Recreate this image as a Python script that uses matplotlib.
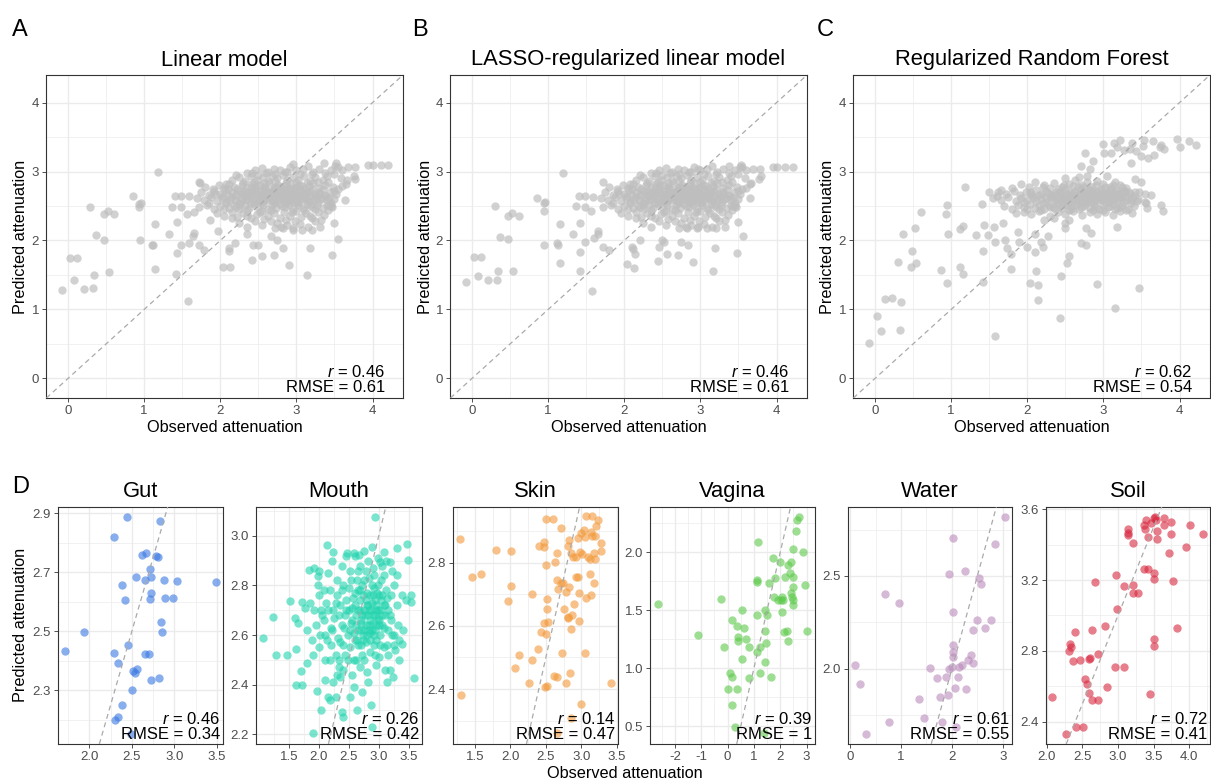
import numpy as np
import matplotlib
matplotlib.use("Agg")
import matplotlib.pyplot as plt

plt.rcParams['font.family'] = ['Liberation Sans', 'DejaVu Sans']
plt.rcParams['mathtext.fontset'] = 'custom'
plt.rcParams['mathtext.it'] = 'Liberation Sans:italic'
plt.rcParams['mathtext.rm'] = 'Liberation Sans'

# ---------------- data (observed, predicted) ----------------
# dense cloud shared by the linear and LASSO panels (they look alike)
core_ab = [
    (2.45,3.02),(2.55,3.05),(2.62,3.00),(2.70,3.04),(2.78,3.02),(2.85,3.00),(2.92,3.06),(3.00,3.02),(3.08,3.04),
    (3.15,3.08),(3.22,3.00),(3.30,3.04),(3.38,2.98),(3.45,3.02),(3.55,3.06),(3.60,3.02),(2.35,2.98),(2.50,2.95),
    (1.72,2.85),(2.08,2.82),(2.15,2.88),(2.25,2.92),(2.32,2.86),(2.40,2.94),(2.48,2.88),(2.56,2.92),(2.62,2.86),
    (2.68,2.94),(2.75,2.90),(2.82,2.95),(2.88,2.87),(2.95,2.92),(3.02,2.88),(3.10,2.93),(3.18,2.86),(3.25,2.92),
    (3.35,2.88),(3.42,2.85),(3.58,2.90),(3.65,2.82),
    (1.80,2.78),(1.90,2.74),(1.98,2.80),(2.05,2.76),(2.12,2.82),(2.18,2.78),(2.22,2.74),(2.28,2.80),(2.35,2.76),
    (2.42,2.82),(2.46,2.75),(2.52,2.80),(2.58,2.77),(2.64,2.83),(2.70,2.76),(2.76,2.81),(2.80,2.74),(2.86,2.79),
    (2.92,2.83),(2.98,2.76),(3.04,2.80),(3.10,2.74),(3.16,2.79),(3.22,2.83),(3.30,2.76),(3.38,2.80),(3.48,2.78),
    (3.55,2.75),
    (1.75,2.70),(1.85,2.66),(1.92,2.72),(2.00,2.68),(2.06,2.73),(2.10,2.66),(2.16,2.70),(2.20,2.65),(2.26,2.72),
    (2.30,2.67),(2.36,2.71),(2.40,2.66),(2.45,2.73),(2.50,2.68),(2.55,2.72),(2.60,2.66),(2.65,2.70),(2.70,2.73),
    (2.74,2.67),(2.78,2.71),(2.84,2.66),(2.88,2.72),(2.93,2.68),(2.97,2.73),(3.02,2.66),(3.07,2.70),(3.12,2.67),
    (3.18,2.72),(3.24,2.68),(3.30,2.71),(3.36,2.66),(3.44,2.70),(3.52,2.68),
    (1.70,2.62),(1.78,2.58),(1.88,2.63),(1.95,2.57),(2.02,2.61),(2.08,2.56),(2.14,2.63),(2.19,2.59),(2.24,2.55),
    (2.29,2.62),(2.34,2.58),(2.39,2.64),(2.44,2.56),(2.49,2.61),(2.54,2.57),(2.59,2.63),(2.63,2.58),(2.68,2.62),
    (2.72,2.56),(2.77,2.60),(2.82,2.64),(2.86,2.57),(2.91,2.61),(2.96,2.56),(3.00,2.62),(3.05,2.58),(3.11,2.63),
    (3.16,2.57),(3.22,2.61),(3.28,2.56),(3.34,2.62),(3.40,2.58),(3.50,2.60),
    (1.72,2.48),(1.82,2.52),(1.92,2.46),(2.00,2.50),(2.07,2.54),(2.12,2.47),(2.18,2.52),(2.25,2.46),(2.32,2.51),
    (2.38,2.47),(2.44,2.53),(2.50,2.48),(2.56,2.52),(2.62,2.46),(2.68,2.51),(2.73,2.47),(2.79,2.53),(2.85,2.48),
    (2.90,2.52),(2.96,2.46),(3.02,2.51),(3.08,2.47),(3.14,2.53),(3.20,2.48),(3.27,2.52),(3.35,2.47),(3.45,2.50),
    (1.95,2.40),(2.05,2.36),(2.15,2.42),(2.22,2.34),(2.30,2.40),(2.40,2.32),(2.48,2.38),(2.55,2.43),(2.62,2.35),
    (2.70,2.40),(2.78,2.33),(2.84,2.41),(2.92,2.36),(3.00,2.43),(3.06,2.34),(3.12,2.40),(3.20,2.33),(3.28,2.42),
    (3.36,2.37),(3.42,2.44),
    (2.25,2.26),(2.45,2.28),(2.55,2.22),(2.75,2.25),(2.82,2.18),(2.88,2.22),(3.05,2.24),(3.15,2.20),(3.25,2.28),
    (2.35,2.20),
    (2.52,2.66),(2.58,2.74),(2.66,2.62),(2.72,2.78),(2.80,2.68),(2.86,2.62),(2.92,2.76),(2.98,2.64),(2.61,2.70),
    (2.69,2.57),(2.75,2.70),(2.83,2.74),(2.90,2.58),(2.95,2.70),(3.05,2.75),(3.10,2.62),(2.47,2.62),(2.40,2.77),
    (2.33,2.64),(2.57,2.58),
]

core_ab_dense = [
    (1.85,2.55),(1.93,2.68),(2.03,2.64),(2.10,2.74),(2.13,2.58),(2.21,2.68),(2.27,2.57),(2.31,2.72),(2.37,2.60),
    (2.42,2.70),(2.47,2.79),(2.51,2.57),(2.54,2.64),(2.57,2.69),(2.60,2.75),(2.63,2.61),(2.66,2.67),(2.69,2.72),
    (2.71,2.59),(2.74,2.64),(2.77,2.69),(2.79,2.77),(2.81,2.62),(2.84,2.59),(2.87,2.69),(2.89,2.75),(2.92,2.64),
    (2.94,2.58),(2.97,2.68),(2.99,2.78),(3.01,2.56),(3.04,2.64),(3.07,2.79),(3.09,2.67),(3.13,2.58),(3.14,2.71),
    (3.17,2.64),(3.21,2.75),(3.23,2.58),(3.26,2.64),(3.29,2.68),(3.32,2.60),(3.35,2.74),(3.39,2.65),(3.43,2.62),
    (3.46,2.55),(3.50,2.72),
    (2.05,2.45),(2.20,2.48),(2.35,2.44),(2.52,2.42),(2.66,2.44),(2.81,2.50),(2.94,2.42),(3.10,2.44),(3.24,2.45),
    (3.40,2.52),(2.15,2.33),(2.35,2.36),(2.58,2.31),(2.66,2.28),(2.86,2.30),(2.98,2.28),(3.18,2.36),(3.32,2.30),
    (2.72,2.18),(2.95,2.18),
    (2.20,2.95),(2.42,2.98),(2.60,2.98),(2.72,2.97),(2.88,3.00),(3.05,2.97),(3.20,2.96),(3.40,2.94),(3.50,2.96),
    (2.58,2.84),(2.72,2.86),(2.86,2.84),(3.00,2.85),(3.14,2.83),(3.28,2.85),(2.44,2.85),(2.30,2.84),
    (2.55,2.54),(2.70,2.54),(2.88,2.55),(3.02,2.54),(3.18,2.52),(2.40,2.55),(2.26,2.52),
]

linear_outer = [
    (-0.08,1.28),(0.02,1.74),(0.12,1.74),(0.08,1.42),(0.21,1.30),(0.33,1.31),(0.34,1.50),(0.29,2.49),(0.37,2.08),
    (0.47,2.00),(0.47,2.39),(0.52,2.43),(0.60,2.38),(0.54,1.54),(0.85,2.65),(0.93,2.53),(0.93,2.48),(0.96,2.55),
    (0.95,2.00),(1.10,1.93),(1.12,1.93),(1.14,1.59),(1.14,2.24),(1.18,2.99),(1.32,2.09),(1.37,2.49),(1.40,2.64),
    (1.43,2.27),(1.43,1.82),(1.42,1.51),(1.49,2.64),(1.49,2.49),(1.49,1.94),(1.57,1.12),(1.59,2.64),(1.56,2.39),
    (1.64,2.06),(1.65,2.11),(1.59,1.97),(1.72,1.94),(1.79,1.86),(1.65,2.41),(1.73,2.83),(1.87,2.29),(1.97,2.14),
    (2.04,1.61),(2.13,1.61),(2.11,1.89),(2.11,1.84),(2.19,1.96),(2.35,2.10),(2.43,1.94),(2.49,1.94),(2.42,1.71),
    (2.55,1.77),(2.70,1.79),(2.66,2.06),(2.74,2.01),(2.83,1.89),(2.90,1.65),(3.14,1.50),(3.18,1.89),(3.47,1.79),
    (3.55,2.02),(3.49,2.25),(3.64,2.59),(3.75,2.94),(3.77,2.89),(3.94,3.09),(4.01,3.09),(4.11,3.09),(4.20,3.09),
    (3.77,3.07),(3.68,3.07),(3.51,3.08),(3.52,3.12),(3.36,3.13),(2.96,3.11),(3.60,2.79),(3.66,2.88),(3.47,2.49),
    (3.43,2.51),(3.31,2.20),(3.20,2.15),(3.07,2.15),(2.96,2.15),(2.80,2.20),
]

lasso_outer = [
    (-0.08,1.40),(0.02,1.76),(0.12,1.76),(0.08,1.48),(0.21,1.43),(0.33,1.43),(0.34,1.56),(0.54,1.56),(0.30,2.50),
    (0.37,2.05),(0.47,2.02),(0.47,2.36),(0.52,2.40),(0.61,2.36),(0.85,2.61),(0.94,2.43),(0.96,2.56),(0.94,2.54),
    (0.95,1.94),(1.11,1.97),(1.13,1.94),(1.15,1.68),(1.15,2.24),(1.19,2.98),(1.32,2.10),(1.37,2.50),(1.40,2.64),
    (1.42,2.26),(1.42,1.83),(1.42,1.56),(1.49,2.64),(1.49,2.49),(1.49,1.98),(1.57,1.26),(1.59,2.63),(1.56,2.43),
    (1.65,2.14),(1.66,2.10),(1.60,2.03),(1.72,1.91),(1.80,1.86),(2.04,1.66),(2.13,1.60),(2.11,1.87),(2.14,1.81),
    (2.10,1.91),(2.20,2.01),(2.44,1.70),(2.45,1.90),(2.56,1.80),(2.50,2.01),(2.52,1.98),(2.70,1.79),(2.75,1.98),
    (2.84,1.94),(2.90,1.69),(3.16,1.56),(3.19,1.89),(3.48,1.82),(3.56,2.07),(3.49,2.27),(3.65,2.61),(3.77,2.89),
    (3.79,2.94),(3.95,3.06),(4.01,3.06),(4.11,3.06),(4.21,3.06),(3.78,3.04),(3.69,3.04),(3.52,3.06),(3.53,3.10),
    (3.38,3.08),(2.97,3.03),(3.60,2.76),(3.67,2.84),(3.47,2.49),(3.43,2.50),(3.32,2.20),(3.21,2.18),(3.08,2.18),
    (2.97,2.20),(2.81,2.20),
]

forest_core = [
    (1.92,2.82),(2.02,2.78),(2.10,2.85),(2.22,2.80),(2.35,2.84),(2.45,2.78),(2.55,2.82),(2.62,2.88),(2.70,2.80),
    (2.78,2.85),(2.85,2.78),(2.92,2.86),(3.00,2.82),(3.08,2.78),(3.15,2.85),(3.22,2.80),(3.30,2.76),(2.50,2.90),
    (2.68,2.92),(2.40,2.75),
    (1.62,2.70),(1.72,2.68),(1.82,2.72),(1.90,2.66),(1.98,2.71),(2.05,2.67),(2.12,2.73),(2.18,2.68),(2.25,2.72),
    (2.32,2.66),(2.38,2.71),(2.44,2.67),(2.50,2.74),(2.56,2.68),(2.62,2.72),(2.67,2.66),(2.72,2.71),(2.77,2.67),
    (2.83,2.73),(2.88,2.68),(2.94,2.72),(2.99,2.66),(3.05,2.71),(3.10,2.67),(3.16,2.73),(3.22,2.68),(3.28,2.72),
    (3.35,2.67),(3.42,2.70),
    (1.55,2.62),(1.65,2.58),(1.75,2.63),(1.85,2.57),(1.92,2.62),(2.00,2.58),(2.06,2.64),(2.12,2.57),(2.18,2.61),
    (2.24,2.56),(2.30,2.63),(2.36,2.58),(2.42,2.62),(2.48,2.56),(2.53,2.61),(2.58,2.57),(2.63,2.64),(2.68,2.58),
    (2.73,2.62),(2.78,2.56),(2.83,2.61),(2.88,2.57),(2.93,2.63),(2.98,2.58),(3.03,2.62),(3.08,2.56),(3.13,2.61),
    (3.18,2.57),(3.24,2.63),(3.30,2.58),(3.37,2.62),(3.44,2.57),
    (1.70,2.50),(1.80,2.46),(1.88,2.52),(1.96,2.48),(2.04,2.53),(2.10,2.47),(2.16,2.51),(2.22,2.46),(2.28,2.52),
    (2.34,2.48),(2.40,2.53),(2.46,2.47),(2.52,2.51),(2.58,2.46),(2.64,2.52),(2.70,2.48),(2.76,2.53),(2.82,2.47),
    (2.88,2.51),(2.94,2.46),(3.00,2.52),(3.06,2.48),(3.12,2.53),(3.18,2.47),(3.25,2.51),(3.32,2.46),(3.40,2.50),
    (1.85,2.40),(1.95,2.42),(2.05,2.38),(2.15,2.43),(2.30,2.36),(2.40,2.41),(2.50,2.38),(2.60,2.43),(2.72,2.37),
    (2.82,2.42),(2.92,2.38),(3.02,2.41),(3.12,2.37),(3.22,2.43),(3.38,2.40),(2.22,2.30),(2.35,2.32),(2.55,2.30),
    (2.45,2.64),(2.55,2.70),(2.65,2.55),(2.75,2.66),(2.85,2.70),(2.95,2.60),(3.05,2.66),(3.15,2.70),(2.60,2.62),
    (2.70,2.74),(2.80,2.58),(2.90,2.64),(3.00,2.69),(3.10,2.59),(2.50,2.58),(2.35,2.66),(2.25,2.62),(3.20,2.64),
]

forest_dense = [
    (1.95,2.56),(2.03,2.70),(2.09,2.62),(2.15,2.66),(2.21,2.55),(2.27,2.69),(2.33,2.61),(2.39,2.56),(2.43,2.70),
    (2.47,2.62),(2.51,2.67),(2.55,2.55),(2.57,2.64),(2.61,2.69),(2.64,2.59),(2.66,2.78),(2.69,2.64),(2.72,2.57),
    (2.74,2.69),(2.77,2.62),(2.80,2.74),(2.82,2.66),(2.85,2.56),(2.87,2.65),(2.90,2.70),(2.92,2.59),(2.95,2.66),
    (2.97,2.75),(3.00,2.62),(3.02,2.56),(3.05,2.69),(3.07,2.62),(3.10,2.74),(3.12,2.65),(3.15,2.58),(3.18,2.67),
    (3.21,2.62),(3.24,2.70),(3.27,2.56),(3.30,2.65),(3.33,2.70),(3.36,2.55),(3.40,2.64),(3.45,2.60),
    (2.00,2.45),(2.18,2.44),(2.36,2.45),(2.55,2.44),(2.68,2.45),(2.86,2.44),(3.00,2.44),(3.15,2.45),(3.30,2.44),
    (2.20,2.78),(2.30,2.76),(2.48,2.80),(2.60,2.79),(2.75,2.78),(2.90,2.81),(3.02,2.77),(3.12,2.80),(3.25,2.78),
    (2.58,2.50),(2.75,2.50),(2.90,2.49),(3.08,2.50),(3.22,2.49),(2.45,2.52),(2.30,2.49),
]

forest_outer = [
    (-0.08,0.51),(0.02,0.90),(0.08,0.69),(0.13,1.15),(0.22,1.16),(0.34,1.11),(0.33,0.70),(0.30,1.69),(0.37,2.09),
    (0.48,1.84),(0.47,1.61),(0.54,1.67),(0.52,2.18),(0.60,2.42),(0.86,1.57),(0.95,1.38),(0.96,2.10),(0.93,2.39),
    (0.94,2.51),(1.12,1.62),(1.15,1.51),(1.11,2.16),(1.16,2.21),(1.18,2.77),(1.32,2.08),(1.40,2.53),(1.42,1.85),
    (1.42,1.40),(1.43,2.22),(1.49,2.08),(1.50,2.71),(1.56,2.19),(1.57,1.98),(1.57,0.61),(1.60,2.64),(1.66,2.73),
    (1.68,2.26),(1.71,2.00),(1.73,1.89),(1.79,1.81),(1.79,1.58),(1.80,2.76),(1.88,2.12),(1.89,1.98),(2.00,1.90),
    (2.03,1.39),(2.10,2.09),(2.10,1.83),(2.11,1.56),(2.14,1.35),(2.14,1.14),(2.18,1.98),(2.20,1.91),(2.27,2.06),
    (2.44,1.49),(2.43,0.87),(2.52,1.67),(2.55,1.77),(2.49,2.25),(2.49,2.18),(2.70,1.97),(2.77,1.94),(2.77,2.18),
    (2.84,2.11),(2.91,1.37),(3.15,1.02),(3.18,2.19),(3.47,1.31),(3.76,2.51),(3.78,2.43),(3.57,2.47),(3.54,2.56),
    (2.76,3.27),(2.86,3.15),(2.82,3.04),(3.00,3.40),(3.01,3.27),(3.10,3.27),(3.14,3.41),(3.22,3.46),(3.27,3.31),
    (3.38,3.42),(3.36,3.13),(3.43,3.30),(3.53,3.46),(3.52,3.37),(3.49,3.22),(3.58,3.19),(3.65,3.44),(3.67,3.24),
    (3.74,3.35),(3.79,3.32),(3.76,3.39),(3.96,3.47),(4.01,3.35),(4.12,3.44),(4.21,3.38),(3.18,3.36),(3.35,3.33),
    (3.05,2.93),(2.70,3.08),(2.79,2.93),(3.41,2.89),(3.49,2.85),(3.47,2.71),(3.54,2.68),(3.63,2.66),(3.56,2.54),
    (3.36,2.59),(3.27,2.71),
]

gut = [
    (2.443,2.888),(2.830,2.874),(2.286,2.821),(2.623,2.759),(2.666,2.764),(2.783,2.755),(2.807,2.752),(2.709,2.711),
    (2.552,2.683),(2.654,2.674),(2.724,2.685),(2.873,2.672),(3.034,2.669),(3.485,2.666),(2.384,2.658),(2.724,2.629),
    (2.717,2.609),(2.415,2.607),(2.885,2.613),(2.979,2.611),(2.838,2.532),(2.850,2.496),(1.937,2.497),(1.718,2.432),
    (2.450,2.454),(2.290,2.425),(2.650,2.424),(2.697,2.423),(2.333,2.394),(2.509,2.366),(2.556,2.373),(2.533,2.359),
    (2.728,2.336),(2.819,2.343),(2.497,2.300),(2.384,2.250),(2.333,2.211),(2.306,2.200),(2.494,2.152),
]

mouth = [
    (1.067,2.587),(1.233,2.671),(1.283,2.521),(1.467,2.521),(1.52,2.738),(1.60,2.67),(1.65,2.647),(1.62,2.545),
    (1.70,2.454),(1.62,2.40),(1.72,2.40),(1.72,2.734),(1.77,2.71),(1.83,2.862),(1.92,2.871),(1.81,2.488),
    (1.97,2.373),(1.91,2.204),(2.03,2.298),(1.98,2.838),(1.98,2.80),(2.14,2.963),(2.24,2.936),(2.47,2.93),
    (2.59,2.93),(2.67,2.922),(2.94,3.077),(2.88,2.956),(3.02,2.896),(3.08,2.936),(3.19,2.896),(3.30,2.95),
    (3.47,2.966),(3.49,2.902),(3.53,2.762),(3.53,2.734),(3.58,2.426),(3.33,2.58),(3.38,2.565),(3.27,2.54),
    (3.19,2.46),(3.13,2.41),(3.23,2.43),(2.87,2.32),(2.72,2.37),(2.82,2.41),(2.58,2.39),(2.52,2.35),(2.63,2.30),
    (2.38,2.288),(2.41,2.268),(2.29,2.35),(2.16,2.349),(2.19,2.34),(2.88,2.23),(2.24,2.41),(2.36,2.43),(2.33,2.47),
    (2.19,2.50),(2.10,2.42),
    (2.00,2.86),(2.08,2.78),(2.15,2.85),(2.22,2.90),(2.30,2.82),(2.38,2.88),(2.45,2.92),(2.52,2.86),(2.60,2.92),
    (2.68,2.88),(2.75,2.94),(2.82,2.90),(2.90,2.87),(2.98,2.91),(3.05,2.88),(3.12,2.90),(3.22,2.86),(3.30,2.84),
    (1.85,2.73),(1.92,2.70),(2.00,2.76),(2.06,2.68),(2.12,2.73),(2.18,2.78),(2.24,2.70),(2.30,2.76),(2.36,2.72),
    (2.40,2.80),(2.45,2.74),(2.50,2.79),(2.55,2.71),(2.60,2.77),(2.64,2.82),(2.68,2.74),(2.72,2.80),(2.76,2.70),
    (2.80,2.77),(2.84,2.83),(2.88,2.73),(2.92,2.79),(2.96,2.70),(3.00,2.76),(3.04,2.82),(3.08,2.72),(3.12,2.78),
    (3.16,2.70),(3.20,2.76),(3.25,2.80),(3.30,2.72),(3.38,2.76),(3.45,2.74),
    (1.80,2.62),(1.88,2.58),(1.95,2.64),(2.02,2.60),(2.08,2.66),(2.14,2.58),(2.20,2.63),(2.26,2.67),(2.32,2.59),
    (2.38,2.64),(2.44,2.68),(2.48,2.60),(2.53,2.65),(2.58,2.61),(2.62,2.68),(2.66,2.62),(2.70,2.66),(2.74,2.60),
    (2.78,2.64),(2.82,2.68),(2.86,2.61),(2.90,2.65),(2.94,2.62),(2.98,2.67),(3.02,2.60),(3.06,2.64),(3.10,2.68),
    (3.15,2.62),(3.20,2.66),(3.26,2.60),(3.32,2.64),(3.40,2.62),
    (1.90,2.52),(2.00,2.55),(2.10,2.50),(2.20,2.56),(2.28,2.52),(2.36,2.57),(2.44,2.52),(2.52,2.55),(2.58,2.50),
    (2.65,2.56),(2.72,2.52),(2.78,2.57),(2.85,2.53),(2.92,2.56),(3.00,2.51),(3.08,2.55),(3.16,2.52),(3.25,2.56),
    (3.34,2.50),(2.40,2.46),(2.55,2.44),(2.68,2.47),(2.80,2.45),(2.95,2.48),(3.10,2.46),(2.30,2.44),
    (2.60,2.72),(2.66,2.78),(2.72,2.68),(2.78,2.74),(2.84,2.70),(2.90,2.76),(2.96,2.72),(3.02,2.70),(2.70,2.62),
    (2.86,2.66),(2.92,2.60),(2.76,2.82),(2.98,2.80),(2.56,2.66),(2.50,2.70),(2.64,2.58),(2.80,2.60),(3.06,2.76),
    (2.88,2.80),(2.74,2.76),(2.82,2.72),(2.94,2.68),(3.00,2.64),(2.68,2.70),
    (2.52,2.62),(2.57,2.75),(2.62,2.64),(2.65,2.70),(2.69,2.78),(2.71,2.65),(2.75,2.62),(2.77,2.68),(2.80,2.72),
    (2.83,2.64),(2.85,2.76),(2.87,2.70),(2.89,2.62),(2.91,2.68),(2.93,2.74),(2.95,2.64),(2.97,2.77),(2.99,2.70),
    (3.01,2.66),(3.03,2.74),(3.05,2.68),(3.08,2.63),(3.10,2.72),(3.14,2.75),(3.18,2.68),(2.46,2.70),(2.42,2.63),
    (2.38,2.78),(2.33,2.68),(2.28,2.73),(2.22,2.62),(2.16,2.70),(2.10,2.60),(2.04,2.70),(2.62,2.50),(2.70,2.56),
    (2.76,2.50),(2.86,2.58),(2.94,2.52),(3.02,2.56),(2.54,2.82),(2.66,2.86),(2.78,2.86),(2.92,2.84),(3.08,2.84),
    (2.48,2.50),(2.40,2.56),(2.34,2.50),(3.14,2.56),(3.22,2.60),(2.60,2.58),(2.84,2.62),(2.74,2.58),(2.96,2.58),
]

skin = [
    (1.288,2.874),(1.296,2.381),(1.453,2.756),(1.585,2.764),(1.796,2.840),(2.004,2.836),(2.013,2.726),(1.971,2.680),
    (2.126,2.507),(2.069,2.468),(2.305,2.702),(2.309,2.491),(2.266,2.420),(2.385,2.528),(2.428,2.580),(2.409,2.853),
    (2.475,2.866),(2.480,2.849),(2.499,2.938),(2.607,2.937),(2.504,2.793),(2.513,2.684),(2.518,2.653),(2.536,2.612),
    (2.480,2.610),(2.504,2.574),(2.485,2.405),(2.518,2.409),(2.612,2.442),(2.654,2.439),(2.631,2.803),(2.654,2.830),
    (2.711,2.909),(2.659,2.745),(2.715,2.737),(2.744,2.735),(2.678,2.718),(2.728,2.513),(2.758,2.653),(2.791,2.708),
    (2.833,2.724),(2.809,2.853),(2.833,2.872),(2.861,2.832),(2.885,2.817),(2.819,2.625),(2.814,2.629),(2.875,2.634),
    (2.894,2.669),(2.861,2.589),(2.838,2.450),(2.781,2.418),(2.960,2.879),(2.969,2.703),(2.969,2.616),(2.927,2.756),
    (2.955,2.756),(2.932,2.819),(2.993,2.893),(3.035,2.903),(3.054,2.882),(3.007,2.827),(2.988,2.834),(3.096,2.819),
    (3.072,2.687),(3.049,2.515),(3.002,2.352),(3.072,2.946),(3.152,2.946),(3.237,2.935),(3.214,2.916),(3.138,2.897),
    (3.152,2.885),(3.190,2.885),(3.119,2.764),(3.134,2.697),(3.176,2.735),(3.119,2.813),(3.181,2.830),(3.195,2.813),
    (3.280,2.862),(3.271,2.838),(3.416,2.418),(2.861,2.309),(2.664,2.262),
]

vagina = [
    (-2.658,1.551),(-1.114,1.283),(-0.266,1.594),(1.139,2.089),(1.101,1.761),(1.101,1.747),(0.165,1.415),(0.532,1.502),
    (0.367,1.366),(0.633,1.343),(0.405,1.272),(0.380,1.237),(0.684,1.251),(-0.127,1.185),(0.810,1.185),(1.241,1.185),
    (1.114,1.136),(0.557,1.079),(0.076,0.955),(0.177,0.926),(0.810,0.912),(1.215,0.961),(1.633,0.926),(0.013,0.817),
    (0.367,0.822),(0.177,0.681),(0.266,0.494),(1.392,0.442),(1.101,1.459),(1.418,1.502),(1.481,1.459),(1.456,1.214),
    (1.418,1.056),(1.418,1.320),(1.582,1.732),(1.709,1.954),(1.797,1.781),(1.759,1.611),(1.924,1.588),(2.051,1.617),
    (2.013,1.588),(2.114,1.588),(2.051,1.487),(1.987,1.919),(2.177,1.790),(2.304,1.891),(2.392,1.919),(2.367,1.818),
    (2.468,1.784),(2.392,1.646),(2.430,1.611),(2.494,1.588),(2.468,1.545),(2.494,1.698),(2.139,1.315),(2.266,1.320),
    (2.291,1.237),(2.494,2.026),(2.595,2.179),(2.620,2.279),(2.722,2.308),(2.873,2.000),(2.937,1.718),(3.025,1.323),
]

water = [
    (0.098,2.020),(0.197,1.917),(0.308,1.649),(0.688,2.401),(0.969,2.356),(0.773,1.710),(1.362,1.836),(1.461,1.732),
    (1.572,2.005),(1.710,1.948),(1.769,1.849),(1.815,1.714),(1.886,1.957),(1.926,1.860),(1.939,2.509),(1.939,2.000),
    (2.017,2.703),(2.017,2.304),(2.024,2.129),(2.031,2.092),(2.031,2.065),(2.011,2.007),(2.057,1.898),(2.090,1.683),
    (2.136,2.011),(2.129,1.957),(2.201,2.018),(2.253,2.527),(2.273,1.890),(2.312,2.047),(2.371,2.074),(2.410,2.029),
    (2.423,2.207),(2.502,2.263),(2.535,2.487),(2.581,2.459),(2.659,2.219),(2.771,2.264),(2.849,2.671),(3.052,2.818),
]

soil = [
    (2.080,2.539),(2.272,2.333),(2.412,2.372),(2.511,2.372),(2.319,2.797),(2.337,2.824),(2.328,2.839),(2.365,2.743),
    (2.403,2.905),(2.468,2.748),(2.543,2.639),(2.562,2.613),(2.590,2.564),(2.600,2.752),(2.609,2.762),(2.637,2.920),
    (2.637,2.522),(2.679,3.189),(2.717,2.522),(2.717,2.782),(2.824,2.941),(2.843,2.598),(2.974,3.230),(2.984,3.034),
    (2.960,2.709),(3.087,3.168),(3.077,2.709),(3.208,3.172),(3.208,3.127),(3.279,3.127),(3.208,3.408),(3.138,3.487),
    (3.138,3.468),(3.134,3.455),(3.358,3.261),(3.415,3.265),(3.368,3.511),(3.377,3.487),(3.386,3.540),(3.419,3.445),
    (3.499,3.239),(3.499,3.204),(3.443,2.556),(3.499,2.869),(3.508,2.827),(3.466,3.525),(3.504,3.549),(3.513,3.559),
    (3.536,3.540),(3.550,3.480),(3.541,3.431),(3.639,3.553),(3.649,3.511),(3.747,3.460),(3.747,3.530),(3.719,3.351),
    (3.770,3.194),(3.827,2.929),(3.953,3.389),(4.014,3.511),(4.192,3.462),
]

top_titles = ["Linear model", "LASSO-regularized linear model", "Regularized Random Forest"]
top_stats = [("0.46", "0.61"), ("0.46", "0.61"), ("0.62", "0.54")]
bottom_titles = ["Gut", "Mouth", "Skin", "Vagina", "Water", "Soil"]
bottom_stats = [("0.46", "0.34"), ("0.26", "0.42"), ("0.14", "0.47"), ("0.39", "1"), ("0.61", "0.55"), ("0.72", "0.41")]
bottom_colors = ["#3A78E2", "#22D4AE", "#F2993A", "#5CC94A", "#B98BBB", "#D8283F"]

# ---------------- figure ----------------
W, H = 1211, 782
fig = plt.figure(figsize=(W / 100, H / 100), dpi=100)
fig.patch.set_facecolor("white")


def px_axes(left, top, right, bottom):
    return fig.add_axes([left / W, 1 - bottom / H, (right - left) / W, (bottom - top) / H])


def style(ax, xlim, ylim, xmaj, xlab, xmin, ymaj, ylab, ymin):
    ax.set_xticks(xmaj)
    ax.set_xticklabels(xlab)
    ax.set_yticks(ymaj)
    ax.set_yticklabels(ylab)
    ax.set_xticks(xmin, minor=True)
    ax.set_yticks(ymin, minor=True)
    ax.set_xlim(*xlim)
    ax.set_ylim(*ylim)
    ax.grid(which="major", color="#EBEBEB", lw=1.0)
    ax.grid(which="minor", color="#EBEBEB", lw=0.5)
    ax.set_axisbelow(True)
    ax.tick_params(which="major", length=3, width=0.6, color="#333333",
                   labelcolor="#4D4D4D", labelsize=9.5, pad=2)
    ax.tick_params(which="minor", length=0)
    for s in ax.spines.values():
        s.set_color("#333333")
        s.set_linewidth(0.8)


def stats_text(ax, r, rmse, xfrac):
    ax.text(xfrac, 0.01, r"$\it{r}$ = " + r + "\nRMSE = " + rmse, transform=ax.transAxes,
            ha="right", va="bottom", fontsize=12, color="black", linespacing=0.95, zorder=5)


# top panels
top_boxes = [(46, 75, 403, 398), (450, 75, 807, 398), (853, 75, 1210, 398)]
top_data = [core_ab + core_ab_dense + linear_outer,
            core_ab + core_ab_dense + lasso_outer,
            forest_core + forest_dense + forest_outer]
letters = [("A", 12, 30), ("B", 412, 30), ("C", 817, 30)]
tk = [0, 1, 2, 3, 4]
tkm = [-0.5, 0.5, 1.5, 2.5, 3.5, 4.5]
for i in range(3):
    l, t, r_, b = top_boxes[i]
    ax = px_axes(l, t, r_, b)
    style(ax, (-0.29, 4.40), (-0.285, 4.40), tk, [str(v) for v in tk], tkm, tk, [str(v) for v in tk], tkm)
    pts = np.array(top_data[i])
    ax.scatter(pts[:, 0], pts[:, 1], s=36, color="#BEBEBE", alpha=0.7, linewidths=0, zorder=2)
    ax.axline((0, 0), slope=1, color="#AAAAAA", lw=0.9, ls=(0, (4, 3)), zorder=3)
    stats_text(ax, top_stats[i][0], top_stats[i][1], 0.95)
    fig.text(((l + r_) / 2) / W, 1 - 60 / H, top_titles[i], ha="center", va="center", fontsize=15.8)
    fig.text(((l + r_) / 2) / W, 1 - 428 / H, "Observed attenuation", ha="center", va="center", fontsize=11.7)
    fig.text((l - 25) / W, 1 - ((t + b) / 2) / H, "Predicted attenuation", ha="center", va="center",
             rotation=90, fontsize=11.7)
    fig.text(letters[i][1] / W, 1 - letters[i][2] / H, letters[i][0], ha="left", va="center", fontsize=17)

fig.text(12 / W, 1 - 487 / H, "D", ha="left", va="center", fontsize=17)

# bottom panels
bottom_boxes = [(58, 507, 223, 744), (256, 507, 422, 744), (453, 507, 618, 744),
                (650, 507, 815, 744), (848, 507, 1012, 744), (1046, 507, 1210, 744)]
bottom_data = [gut, mouth, skin, vagina, water, soil]
specs = [
    dict(xlim=(1.632, 3.571), ylim=(2.118, 2.921),
         xmaj=[2.0, 2.5, 3.0, 3.5], xmin=[1.75, 2.25, 2.75, 3.25],
         ymaj=[2.3, 2.5, 2.7, 2.9], ymin=[2.2, 2.4, 2.6, 2.8], fmt="{:.1f}"),
    dict(xlim=(0.955, 3.72), ylim=(2.161, 3.116),
         xmaj=[1.5, 2.0, 2.5, 3.0, 3.5], xmin=[1.25, 1.75, 2.25, 2.75, 3.25],
         ymaj=[2.2, 2.4, 2.6, 2.8, 3.0], ymin=[2.3, 2.5, 2.7, 2.9, 3.1], fmt="{:.1f}"),
    dict(xlim=(1.189, 3.518), ylim=(2.226, 2.976),
         xmaj=[1.5, 2.0, 2.5, 3.0, 3.5], xmin=[1.25, 1.75, 2.25, 2.75, 3.25],
         ymaj=[2.4, 2.6, 2.8], ymin=[2.3, 2.5, 2.7, 2.9], fmt="{:.1f}"),
    dict(xlim=(-2.95, 3.32), ylim=(0.345, 2.39),
         xmaj=[-2, -1, 0, 1, 2, 3], xmin=[-2.5, -1.5, -0.5, 0.5, 1.5, 2.5],
         ymaj=[0.5, 1.0, 1.5, 2.0], ymin=[0.75, 1.25, 1.75, 2.25], fmt=None),
    dict(xlim=(-0.04, 3.18), ylim=(1.594, 2.872),
         xmaj=[0, 1, 2, 3], xmin=[0.5, 1.5, 2.5],
         ymaj=[2.0, 2.5], ymin=[1.75, 2.25, 2.75], fmt=None),
    dict(xlim=(1.99, 4.29), ylim=(2.274, 3.613),
         xmaj=[2.0, 2.5, 3.0, 3.5, 4.0], xmin=[2.25, 2.75, 3.25, 3.75, 4.25],
         ymaj=[2.4, 2.8, 3.2, 3.6], ymin=[2.6, 3.0, 3.4], fmt="{:.1f}"),
]
for i in range(6):
    l, t, r_, b = bottom_boxes[i]
    ax = px_axes(l, t, r_, b)
    sp = specs[i]
    if sp["fmt"]:
        xl = [sp["fmt"].format(v) for v in sp["xmaj"]]
    else:
        xl = [str(v) for v in sp["xmaj"]]
    yl = ["{:.1f}".format(v) for v in sp["ymaj"]]
    style(ax, sp["xlim"], sp["ylim"], sp["xmaj"], xl, sp["xmin"], sp["ymaj"], yl, sp["ymin"])
    pts = np.array(bottom_data[i])
    ax.scatter(pts[:, 0], pts[:, 1], s=36, color=bottom_colors[i], alpha=0.6, linewidths=0, zorder=2)
    ax.axline((2, 2), slope=1, color="#AAAAAA", lw=0.9, ls=(0, (4, 3)), zorder=3)
    stats_text(ax, bottom_stats[i][0], bottom_stats[i][1], 0.985)
    fig.text(((l + r_) / 2) / W, 1 - 492 / H, bottom_titles[i], ha="center", va="center", fontsize=15.8)

fig.text(21 / W, 1 - 625 / H, "Predicted attenuation", ha="center", va="center", rotation=90, fontsize=11.7)
fig.text(625 / W, 1 - 773 / H, "Observed attenuation", ha="center", va="center", fontsize=11.7)

fig.savefig("out.png", dpi=100, facecolor="white")
